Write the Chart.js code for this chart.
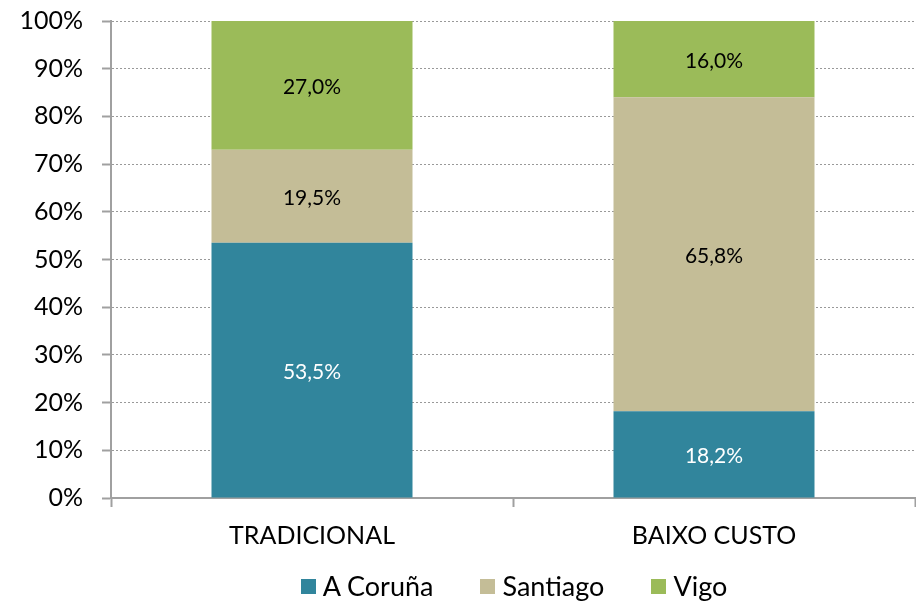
<!DOCTYPE html>
<html>
<head>
<meta charset="utf-8">
<script src="https://cdn.jsdelivr.net/npm/chart.js@4.4.0/dist/chart.umd.min.js"></script>
<style>
  html, body { margin: 0; padding: 0; background: #fff; }
  #wrap { position: relative; width: 916px; height: 603px; }
  #legenda {
    position: absolute; left: 56px; top: 570px; width: 916px;
    display: flex; justify-content: center; gap: 47px;
    font-family: Lato, "Open Sans", sans-serif; font-size: 27px; line-height: 32px; color: #000;
  }
  #legenda span.item { display: flex; align-items: center; }
  #legenda span.caixa { width: 15px; height: 15px; margin-right: 7px; display: inline-block; }
</style>
</head>
<body>
<div id="wrap">
  <canvas id="grafico" width="916" height="603"></canvas>
  <div id="legenda"></div>
</div>
<script>
// ===== Dados =====
const categorias = ["TRADICIONAL", "BAIXO CUSTO"];
const aCoruna = [53.5, 18.2];
const santiago = [19.5, 65.8];
const vigo = [27.0, 16.0];
const ticksY = [0, 10, 20, 30, 40, 50, 60, 70, 80, 90, 100];

const fonte = "Lato, 'Open Sans', sans-serif";
const cinza = "#a0a0a0";

// Rótulos dentro das barras
const rotulosPlugin = {
  id: "rotulos",
  afterDatasetsDraw(chart) {
    const ctx = chart.ctx;
    ctx.save();
    ctx.font = "21px " + fonte;
    ctx.textAlign = "center";
    ctx.textBaseline = "middle";
    chart.data.datasets.forEach((ds, i) => {
      const meta = chart.getDatasetMeta(i);
      meta.data.forEach((bar, j) => {
        const v = ds.data[j];
        const y = (bar.y + bar.base) / 2 + 2;
        ctx.fillStyle = ds.corRotulo;
        ctx.fillText(v.toFixed(1).replace(".", ",") + "%", bar.x, y);
      });
    });
    ctx.restore();
  }
};

const grafico = new Chart(document.getElementById("grafico"), {
  type: "bar",
  data: {
    labels: categorias,
    datasets: [
      { label: "A Coruña", data: aCoruna, backgroundColor: "#31859c", corRotulo: "#ffffff" },
      { label: "Santiago", data: santiago, backgroundColor: "#c4bd97", corRotulo: "#000000" },
      { label: "Vigo", data: vigo, backgroundColor: "#9bbb59", corRotulo: "#000000" }
    ]
  },
  options: {
    responsive: false,
    animation: false,
    layout: { padding: { top: 21, right: 1, left: 0, bottom: 0 } },
    datasets: { bar: { barPercentage: 0.5, categoryPercentage: 1 } },
    plugins: {
      legend: { display: false },
      tooltip: { enabled: false }
    },
    scales: {
      x: {
        stacked: true,
        afterFit: (s) => { s.height = 105; },
        grid: { offset: true, drawOnChartArea: false, drawTicks: true, tickLength: 9, tickColor: cinza, tickWidth: 2 },
        border: { color: cinza, width: 2 },
        ticks: { color: "#000", font: { family: fonte, size: 25 }, padding: 14 }
      },
      y: {
        stacked: true,
        min: 0,
        max: 100,
        afterFit: (s) => { s.width = 111; s.paddingTop = 0; s.paddingBottom = 0; },
        afterBuildTicks: (s) => { s.ticks = ticksY.map((v) => ({ value: v })); },
        grid: { color: "#999999", lineWidth: 1, tickLength: 9, tickColor: cinza, tickWidth: 2, tickBorderDash: [] },
        border: { color: cinza, width: 2, dash: [2, 2] },
        ticks: {
          color: "#000",
          font: { family: fonte, size: 25 },
          padding: 19,
          callback: (v) => v + "%"
        }
      }
    }
  },
  plugins: [rotulosPlugin]
});

// Legenda em HTML
const legenda = document.getElementById("legenda");
grafico.data.datasets.forEach((ds) => {
  const item = document.createElement("span");
  item.className = "item";
  item.innerHTML = `<span class="caixa" style="background:${ds.backgroundColor}"></span>${ds.label}`;
  legenda.appendChild(item);
});
</script>
</body>
</html>
